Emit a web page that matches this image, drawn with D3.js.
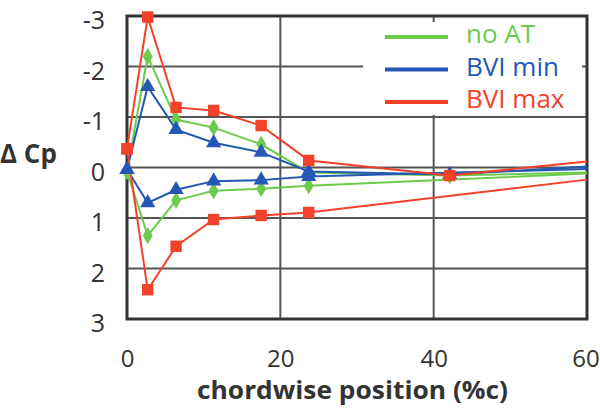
<!DOCTYPE html>
<html>
<head>
<meta charset="utf-8">
<script src="https://cdn.jsdelivr.net/npm/d3@7"></script>
<style>
html,body{margin:0;padding:0;background:#fff;}
svg{display:block;}
</style>
</head>
<body>
<svg id="chart" width="600" height="409"></svg>
<script>
// ---- data ----
const xUpper = [0, 2.7, 6.4, 11.3, 17.5, 23.7, 42.1, 60];
const xLower = [0, 2.7, 6.4, 11.3, 17.5, 23.7, 60];

const noAtUpper   = [0.08, -2.2, -0.95, -0.79, -0.46, 0.10, 0.16, 0.10];
const noAtLower   = [0.08, 1.35, 0.65, 0.46, 0.42, 0.36, 0.12];
const bviMinUpper = [0.04, -1.6, -0.75, -0.49, -0.30, 0.08, 0.14, -0.02];
const bviMinLower = [0.04, 0.70, 0.44, 0.27, 0.25, 0.18, 0.03];
const bviMaxUpper = [-0.37, -2.98, -1.19, -1.13, -0.83, -0.14, 0.16, -0.12];
const bviMaxLower = [-0.37, 2.42, 1.56, 1.03, 0.95, 0.89, 0.24];

const seriesNames = ["no AT", "BVI min", "BVI max"];
const xTicks = [0, 20, 40, 60];
const yTicks = [-3, -2, -1, 0, 1, 2, 3];

// ---- layout ----
const FONT = "'Open Sans', 'DejaVu Sans', sans-serif";
const svg = d3.select("#chart");
const x = d3.scaleLinear().domain([0, 60]).range([127, 587]);
const y = d3.scaleLinear().domain([-3, 3]).range([16, 319]);

const colors = {"no AT": "#6ccb4c", "BVI min": "#2458b4", "BVI max": "#f4412a"};
const symbols = {"no AT": d3.symbolDiamond, "BVI min": d3.symbolTriangle, "BVI max": d3.symbolSquare};
const symSizes = {"no AT": 85, "BVI min": 100, "BVI max": 130};

const series = [
  {name: "no AT", xs: xUpper, ys: noAtUpper},
  {name: "no AT", xs: xLower, ys: noAtLower},
  {name: "BVI min", xs: xUpper, ys: bviMinUpper},
  {name: "BVI min", xs: xLower, ys: bviMinLower},
  {name: "BVI max", xs: xUpper, ys: bviMaxUpper},
  {name: "BVI max", xs: xLower, ys: bviMaxLower}
];

// gridlines
const grid = svg.append("g");
grid.selectAll("line.h").data(yTicks).join("line")
  .attr("x1", x(0)).attr("x2", x(60))
  .attr("y1", d => y(d)).attr("y2", d => y(d))
  .attr("stroke", "#555").attr("stroke-width", 2);
grid.selectAll("line.v").data(xTicks).join("line")
  .attr("x1", d => x(d)).attr("x2", d => x(d))
  .attr("y1", y(-3)).attr("y2", y(3))
  .attr("stroke", "#555").attr("stroke-width", 2);

// legend box (white background)
svg.append("rect").attr("x", 363).attr("y", 22).attr("width", 219).attr("height", 93).attr("fill", "#fff");

// frame
svg.append("rect").attr("x", x(0)).attr("y", y(-3)).attr("width", x(60) - x(0)).attr("height", y(3) - y(-3))
  .attr("fill", "none").attr("stroke", "#333").attr("stroke-width", 3);

// axes via d3 axis
const yAxis = d3.axisLeft(y).tickValues(yTicks).tickSize(0).tickPadding(22).tickFormat(d3.format("d"));
const yg = svg.append("g").attr("transform", `translate(${x(0)},0)`).call(yAxis);
yg.select(".domain").remove();
yg.selectAll("text").attr("font-family", FONT).attr("font-size", 25).attr("fill", "#333")
  .attr("dy", "0.5em").text(d => d < 0 ? "-" + Math.abs(d) : d);

const xAxis = d3.axisBottom(x).tickValues(xTicks).tickSize(0).tickPadding(31).tickFormat(d3.format("d"));
const xg = svg.append("g").attr("transform", `translate(0,${y(3)})`).call(xAxis);
xg.select(".domain").remove();
xg.selectAll("text").attr("font-family", FONT).attr("font-size", 24).attr("fill", "#333")
  .attr("dx", d => d === 60 ? -1.5 : 0);

// axis titles
svg.append("text").attr("x", 197).attr("y", 399)
  .attr("font-family", FONT).attr("font-weight", "bold").attr("font-size", 25)
  .attr("textLength", 311).attr("lengthAdjust", "spacingAndGlyphs")
  .attr("fill", "#333").text("chordwise  position (%c)");
svg.append("text").attr("x", 0).attr("y", 163)
  .attr("font-family", FONT).attr("font-weight", "bold").attr("font-size", 26)
  .attr("fill", "#333").text("Δ Cp");

// lines and markers
const line = d3.line().x(d => x(d[0])).y(d => y(d[1]));
const dataG = svg.append("g");
series.forEach(s => {
  const pts = s.xs.map((xv, i) => [xv, s.ys[i]]);
  dataG.append("path").attr("d", line(pts)).attr("fill", "none")
    .attr("stroke", colors[s.name]).attr("stroke-width", 2);
});
series.forEach(s => {
  const pts = s.xs.map((xv, i) => [xv, s.ys[i]]).slice(0, -1);
  const sym = d3.symbol().type(symbols[s.name]).size(symSizes[s.name]);
  dataG.selectAll(null).data(pts).join("path")
    .attr("d", sym).attr("transform", d => `translate(${x(d[0])},${y(d[1])})`)
    .attr("fill", colors[s.name]);
});

// legend
const leg = svg.append("g");
seriesNames.forEach((n, i) => {
  const ly = 37 + i * 32.5;
  leg.append("line").attr("x1", 385).attr("x2", 448).attr("y1", ly).attr("y2", ly)
    .attr("stroke", colors[n]).attr("stroke-width", 4);
  leg.append("text").attr("x", 466).attr("y", ly + 6).attr("font-family", FONT)
    .attr("font-size", 26).attr("fill", colors[n]).text(n);
});
</script>
</body>
</html>
